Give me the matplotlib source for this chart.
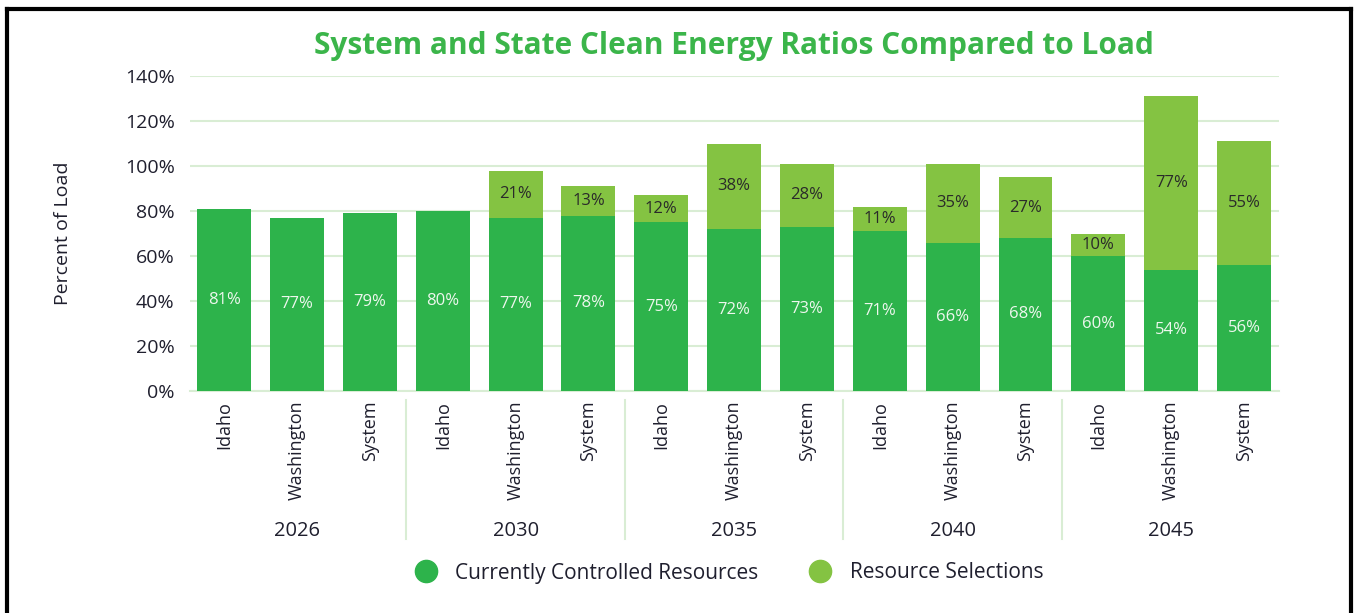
import matplotlib
matplotlib.use("Agg")
import matplotlib.pyplot as plt
from matplotlib.lines import Line2D
import numpy as np

years = ["2026", "2030", "2035", "2040", "2045"]
regions = ["Idaho", "Washington", "System"]
current = [81, 77, 79, 80, 77, 78, 75, 72, 73, 71, 66, 68, 60, 54, 56]
selections = [0, 0, 0, 0, 21, 13, 12, 38, 28, 11, 35, 27, 10, 77, 55]
yticks = [0, 20, 40, 60, 80, 100, 120, 140]

DARK = "#2db34b"
LIGHT = "#84c342"
GRID = "#d9edd4"
TXT = "#1f1f2e"
FONT = ["Open Sans", "DejaVu Sans"]
plt.rcParams["font.family"] = FONT

fig = plt.figure(figsize=(13.54, 6.13), dpi=100)
ax = fig.add_axes([190/1354, 1-391/613, (1279-190)/1354, (391-76)/613])

labels = [r for y in years for r in regions]
x = np.arange(len(labels))
w = 0.74
ax.bar(x, current, width=w, color=DARK, zorder=3)
ax.bar(x, selections, width=w, bottom=current, color=LIGHT, zorder=3)

for xi, c, s in zip(x, current, selections):
    ax.text(xi, c/2, f"{c}%", ha="center", va="center", color="#eef7ee", fontsize=12, zorder=4)
    if s > 0:
        ax.text(xi, c + s/2, f"{s}%", ha="center", va="center", color="#2a2a2a", fontsize=12, zorder=4)

ax.set_xlim(-0.47, len(labels) - 0.52)
ax.set_ylim(0, 140)
ax.set_yticks(yticks)
ax.set_yticklabels([f"{v}%" for v in yticks], fontsize=14, color=TXT)
ax.yaxis.grid(True, color=GRID, linewidth=1.5, zorder=0)
ax.set_axisbelow(True)
for sp in ["top", "right", "left"]:
    ax.spines[sp].set_visible(False)
ax.spines["bottom"].set_color(GRID)
ax.spines["bottom"].set_linewidth(1.5)
ax.tick_params(axis="y", length=0, pad=11)
ax.tick_params(axis="x", length=0, pad=7)
ax.set_xticks(x)
ax.set_xticklabels(labels, rotation=90, fontsize=13, color=TXT)
ax.set_ylabel("Percent of Load", fontsize=14, color=TXT, labelpad=38)

tr = ax.get_xaxis_transform()
for i in range(1, len(years)):
    xs = i * 3 - 0.5
    ax.plot([xs, xs], [-0.03, -0.47], color=GRID, linewidth=1.5, transform=tr, clip_on=False)
for i, yr in enumerate(years):
    ax.text(i * 3 + 1, -0.444, yr, transform=tr, ha="center", va="center", fontsize=14.5, color=TXT)

fig.text(734/1354, 1-46/613, "System and State Clean Energy Ratios Compared to Load",
         ha="center", va="center", fontsize=21.5, fontweight="bold", color="#3bb54a")

handles = [Line2D([], [], marker="o", linestyle="", markersize=16, color=DARK),
           Line2D([], [], marker="o", linestyle="", markersize=16, color=LIGHT)]
fig.legend(handles, ["Currently Controlled Resources", "Resource Selections"],
           loc="center", bbox_to_anchor=(724/1354, 1-573/613), ncol=2, frameon=False,
           fontsize=15, handletextpad=0.4, columnspacing=2.0, labelcolor=TXT)

# frame border
for xs, ys in [([7/1354, 7/1354], [-0.1, 1-9/613]),
               ([7/1354, 1351/1354], [1-9/613, 1-9/613]),
               ([1351/1354, 1351/1354], [1-9/613, -0.1])]:
    fig.add_artist(Line2D(xs, ys, color="black", linewidth=3, transform=fig.transFigure))

fig.savefig("out.png", dpi=100)
